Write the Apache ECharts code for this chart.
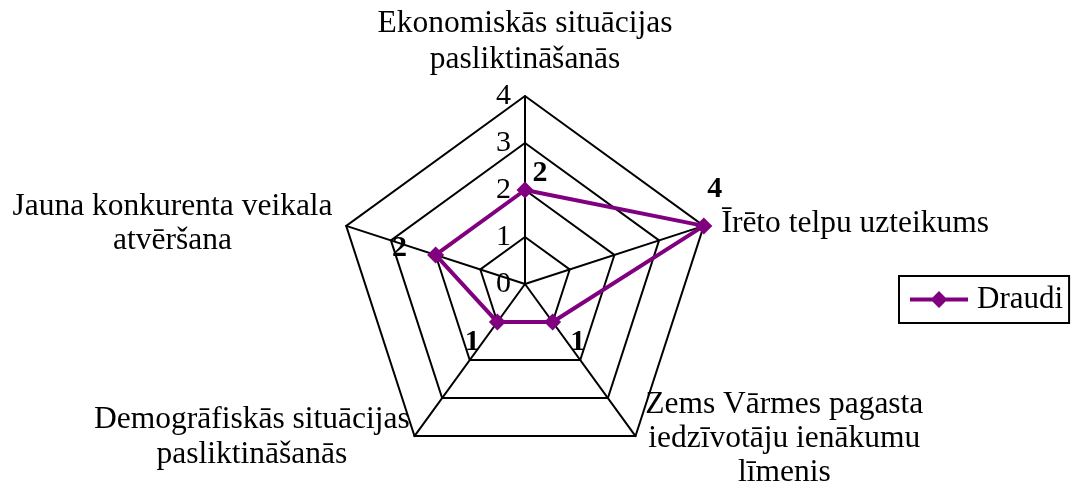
<!DOCTYPE html>
<html>
<head>
<meta charset="utf-8">
<title>Draudi</title>
<script src="https://cdn.jsdelivr.net/npm/echarts@6/dist/echarts.min.js"></script>
<style>
  html, body { margin: 0; padding: 0; background: #ffffff; }
  #chart { width: 1072px; height: 497px; }
</style>
</head>
<body>
<div id="chart"></div>
<script>
// Indicators in the radar's drawing order (top, then counter-clockwise)
var categories = [
  'Ekonomiskās situācijas\npasliktināšanās',
  'Jauna konkurenta veikala\natvēršana',
  'Demogrāfiskās situācijas\npasliktināšanās',
  'Zems Vārmes pagasta\niedzīvotāju ienākumu\nlīmenis',
  'Īrēto telpu uzteikums'
];
var seriesName = 'Draudi';
var draudiValues = [2, 2, 1, 1, 4];
var axisMax = 4;
var tickLabels = ['0', '1', '2', '3', '4'];

var FONT = "'Liberation Serif', 'Times New Roman', serif";
var PURPLE = '#800080';

// per-indicator padding of each name line [top, right, bottom, left]
var namePads = [
  [0, 0, 5, 0],
  [0, 6, 0, 0],
  [0, 0, 10, 0],
  [0, 0, 7, 5],
  [0, 0, 0, 10]
];
var nameLineHeights = [36, 34, 35, 34, 35];
// per-vertex offsets of the value labels (padding on a centred box)
var valuePads = [
  [0, 0, 34, 30],
  [0, 72, 14, 0],
  [40, 50, 0, 0],
  [40, 0, 0, 50],
  [0, 0, 74, 22]
];

var nameRich = {};
var valueRich = {};
categories.forEach(function (c, i) {
  nameRich['n' + i] = {
    fontFamily: FONT, fontSize: 31.5, lineHeight: nameLineHeights[i], color: '#000',
    align: 'center', padding: namePads[i]
  };
  valueRich['v' + i] = {
    fontFamily: FONT, fontSize: 30, fontWeight: 'bold', lineHeight: 30,
    color: '#000', padding: valuePads[i]
  };
});

var indicators = categories.map(function (c, i) {
  var ind = { name: c, min: 0, max: axisMax };
  if (i === 0) {
    ind.axisLabel = { show: true };
  }
  return ind;
});

var chart = echarts.init(document.getElementById('chart'), null, { renderer: 'canvas' });

chart.setOption({
  backgroundColor: '#ffffff',
  animation: false,
  legend: {
    left: 899,
    top: 276,
    orient: 'vertical',
    padding: [8, 6, 8, 11],
    borderColor: '#000',
    borderWidth: 2,
    itemWidth: 58,
    itemHeight: 17,
    textStyle: { fontFamily: FONT, fontSize: 31, color: '#000', padding: [0, 0, 0, 4] },
    data: [{
      name: seriesName,
      icon: 'path://M0,6.5H58V10.5H0Z M29,0L37.5,8.5L29,17L20.5,8.5Z',
      itemStyle: { color: PURPLE }
    }]
  },
  radar: {
    center: [525, 284],
    radius: 188,
    startAngle: 90,
    shape: 'polygon',
    splitNumber: 4,
    indicator: indicators,
    axisNameGap: 8,
    axisName: {
      color: '#000',
      fontFamily: FONT,
      fontSize: 31.5,
      formatter: function (value) {
        var idx = categories.indexOf(value);
        return value.split('\n').map(function (l) {
          return '{n' + idx + '|' + l + '}';
        }).join('\n');
      },
      rich: nameRich
    },
    axisLine: { lineStyle: { color: '#000', width: 2 } },
    splitLine: { lineStyle: { color: '#000', width: 2 } },
    splitArea: { show: false },
    axisTick: { show: false },
    axisLabel: {
      show: false,
      color: '#000',
      fontFamily: FONT,
      fontSize: 30,
      margin: 14,
      formatter: function (v) { return tickLabels[Math.round(v)]; }
    }
  },
  series: [{
    name: seriesName,
    type: 'radar',
    symbol: 'diamond',
    symbolSize: 17,
    lineStyle: { color: PURPLE, width: 4 },
    itemStyle: { color: PURPLE },
    label: {
      show: true,
      position: 'inside',
      formatter: function (p) {
        var d = p.dimensionIndex;
        var v = Array.isArray(p.value) ? p.value[d] : p.value;
        return '{v' + d + '|' + v + '}';
      },
      rich: valueRich
    },
    data: [{ name: seriesName, value: draudiValues }]
  }]
});
</script>
</body>
</html>
